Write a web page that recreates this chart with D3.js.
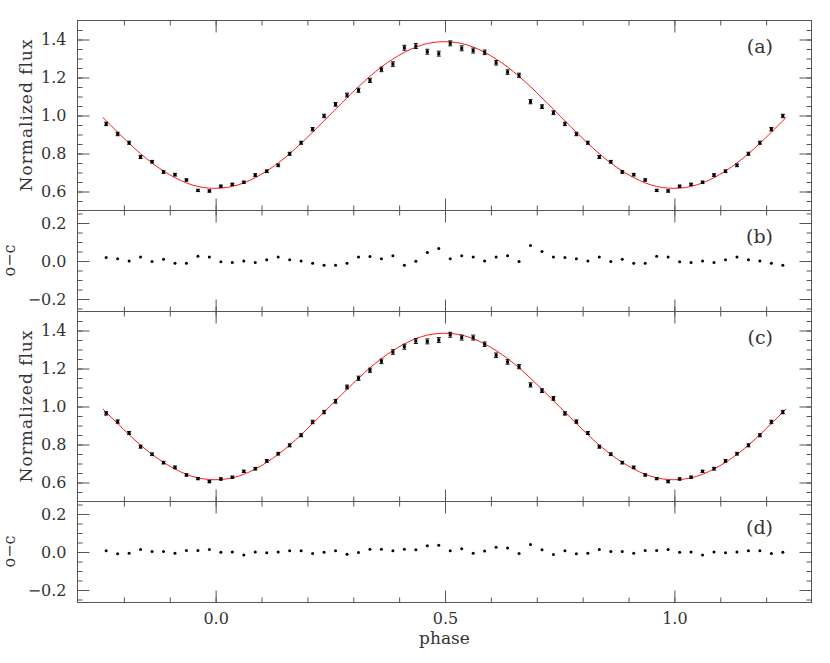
<!DOCTYPE html>
<html>
<head>
<meta charset="utf-8">
<script src="https://cdn.jsdelivr.net/npm/d3@7"></script>
<style>
  body { margin: 0; background: #fff; }
  svg { display: block; }
  text { font-family: "DejaVu Serif", serif; fill: #333; }
</style>
</head>
<body>
<svg id="chart" width="830" height="663"></svg>
<script>
// phase bin centres (one cycle, 40 bins) - plotted again at phase-1 and phase+1
const binPhase = [0.0125,0.0375,0.0625,0.0875,0.1125,0.1375,0.1625,0.1875,0.2125,0.2375,
  0.2625,0.2875,0.3125,0.3375,0.3625,0.3875,0.4125,0.4375,0.4625,0.4875,
  0.5125,0.5375,0.5625,0.5875,0.6125,0.6375,0.6625,0.6875,0.7125,0.7375,
  0.7625,0.7875,0.8125,0.8375,0.8625,0.8875,0.9125,0.9375,0.9625,0.9875];

// panel (a) normalized flux
const fluxA = [0.625,0.635,0.646,0.684,0.704,0.735,0.796,0.854,0.925,0.995,
  1.056,1.105,1.130,1.182,1.240,1.268,1.354,1.363,1.333,1.323,
  1.377,1.351,1.339,1.330,1.275,1.226,1.209,1.070,1.044,1.012,
  0.953,0.900,0.854,0.779,0.754,0.700,0.686,0.658,0.603,0.600];

// panel (b) o-c
const ocB = [-0.007,-0.011,-0.002,-0.011,0.004,0.018,0.004,-0.002,-0.014,-0.025,
  -0.025,-0.014,0.018,0.021,0.009,0.025,-0.025,-0.004,0.042,0.063,
  0.009,0.025,0.018,-0.002,0.018,0.025,-0.005,0.079,0.047,0.018,
  0.016,0.009,-0.002,0.019,-0.005,0.007,-0.014,-0.014,0.023,0.018];

// panel (c) normalized flux
const fluxC = [0.616,0.625,0.656,0.670,0.711,0.749,0.793,0.846,0.916,0.968,
  1.025,1.100,1.146,1.188,1.235,1.284,1.312,1.342,1.340,1.347,
  1.375,1.360,1.360,1.325,1.267,1.232,1.207,1.111,1.081,1.040,
  0.961,0.918,0.858,0.786,0.746,0.702,0.677,0.637,0.618,0.602];

// panel (d) o-c
const ocD = [-0.004,-0.002,-0.018,-0.002,-0.007,-0.002,0.004,0.004,-0.011,-0.004,
  0.004,-0.014,-0.005,0.012,0.012,0.004,0.012,0.009,0.030,0.033,
  0.004,0.014,-0.009,0.002,0.023,0.018,-0.011,0.037,0.009,-0.016,
  0.004,-0.012,-0.009,0.011,0.000,0.000,-0.009,0.005,0.005,0.011];

// flux errors per bin (same for a and c)
const fluxErr = [0.006,0.006,0.006,0.007,0.007,0.007,0.008,0.008,0.009,0.009,
  0.010,0.010,0.011,0.011,0.012,0.012,0.013,0.013,0.013,0.013,
  0.013,0.013,0.013,0.012,0.012,0.012,0.011,0.011,0.010,0.010,
  0.009,0.009,0.008,0.008,0.007,0.007,0.007,0.006,0.006,0.006];

// model light curves (red)
const modelPhase = [-0.25,-0.20,-0.15,-0.10,-0.05,0.00,0.05,0.10,0.15,0.20,0.25,0.30,0.35,0.40,0.45,0.50,
  0.55,0.60,0.65,0.70,0.75,0.80,0.85,0.90,0.95,1.00,1.05,1.10,1.15,1.20,1.25];
const modelA = [1.000,0.880,0.771,0.687,0.632,0.614,0.632,0.687,0.771,0.880,1.000,1.120,1.229,1.313,1.368,1.386,
  1.368,1.313,1.229,1.120,1.000,0.880,0.771,0.687,0.632,0.614,0.632,0.687,0.771,0.880,1.000];
const modelC = [0.998,0.878,0.769,0.685,0.630,0.612,0.630,0.685,0.769,0.878,0.998,1.117,1.226,1.310,1.365,1.383,
  1.365,1.310,1.226,1.117,0.998,0.878,0.769,0.685,0.630,0.612,0.630,0.685,0.769,0.878,0.998];

// tick labels
const fluxTicks = [0.6, 0.8, 1.0, 1.2, 1.4];
const ocTicks = [-0.2, 0.0, 0.2];
const phaseTicks = [0.0, 0.5, 1.0];

const svg = d3.select("#chart");

// plot frame
const left = 77.5, right = 811.5;
const x = d3.scaleLinear().domain([-0.3, 1.3]).range([left, right]);
const phaseMinor = d3.range(-0.2, 1.25, 0.1);

const panels = [
  { top: 20,  bottom: 210, kind: "flux", flux: fluxA, model: modelA, tag: "(a)" },
  { top: 210, bottom: 311, kind: "oc",   oc: ocB, tag: "(b)" },
  { top: 311, bottom: 501, kind: "flux", flux: fluxC, model: modelC, tag: "(c)" },
  { top: 501, bottom: 602, kind: "oc",   oc: ocD, tag: "(d)" }
];

// clip for the model curves
svg.append("clipPath").attr("id", "curveClip")
  .append("rect")
  .attr("x", x(-0.245)).attr("y", 0)
  .attr("width", x(1.245) - x(-0.245)).attr("height", 663);

// repeat each bin at phase-1, phase, phase+1 inside the plotted range
function wrapped(values) {
  const out = [];
  [-1, 0, 1].forEach(function(shift) {
    binPhase.forEach(function(p, i) {
      const ph = p + shift;
      if (ph > -0.25 && ph < 1.25) out.push({ phase: ph, value: values[i], err: fluxErr[i] });
    });
  });
  return out;
}

function styleAxis(g) {
  g.select(".domain").remove();
  g.selectAll(".tick line").attr("stroke", "#555");
  g.selectAll(".tick text").attr("font-size", 16).attr("fill", "#333");
}

panels.forEach(function(p, idx) {
  let y, majors, minors, fmt;
  if (p.kind === "flux") {
    y = d3.scaleLinear().domain([0.5, 1.5]).range([p.bottom, p.top]);
    majors = fluxTicks;
    minors = d3.range(0.55, 1.46, 0.05);
    fmt = d3.format(".1f");
  } else {
    const half = (p.bottom - p.top) / 190 / 2;
    y = d3.scaleLinear().domain([-half, half]).range([p.bottom, p.top]);
    majors = ocTicks;
    minors = d3.range(-0.25, 0.26, 0.05);
    fmt = function(d) { return d3.format(".1f")(d).replace("-", "\u2212"); };
  }

  const g = svg.append("g");

  // frame
  g.append("rect")
    .attr("x", left).attr("y", p.top + 0.5)
    .attr("width", right - left).attr("height", p.bottom - p.top)
    .attr("fill", "none").attr("stroke", "#555").attr("stroke-width", 1);

  // y axes (ticks inward)
  g.append("g").attr("transform", "translate(" + left + ",0.5)")
    .call(d3.axisLeft(y).tickValues(minors).tickSizeInner(-5).tickSizeOuter(0).tickFormat(""))
    .call(styleAxis);
  g.append("g").attr("transform", "translate(" + left + ",0.5)")
    .call(d3.axisLeft(y).tickValues(majors).tickSizeInner(-12).tickSizeOuter(0).tickPadding(11).tickFormat(fmt))
    .call(styleAxis);
  g.append("g").attr("transform", "translate(" + right + ",0.5)")
    .call(d3.axisRight(y).tickValues(minors).tickSizeInner(-5).tickSizeOuter(0).tickFormat(""))
    .call(styleAxis);
  g.append("g").attr("transform", "translate(" + right + ",0.5)")
    .call(d3.axisRight(y).tickValues(majors).tickSizeInner(-12).tickSizeOuter(0).tickFormat(""))
    .call(styleAxis);

  // x axes (ticks inward, top and bottom)
  const isLast = idx === panels.length - 1;
  g.append("g").attr("transform", "translate(0.5," + (p.top + 0.5) + ")")
    .call(d3.axisTop(x).tickValues(phaseMinor).tickSizeInner(-5).tickSizeOuter(0).tickFormat(""))
    .call(styleAxis);
  g.append("g").attr("transform", "translate(0.5," + (p.top + 0.5) + ")")
    .call(d3.axisTop(x).tickValues(phaseTicks).tickSizeInner(-12).tickSizeOuter(0).tickFormat(""))
    .call(styleAxis);
  g.append("g").attr("transform", "translate(0.5," + (p.bottom + 0.5) + ")")
    .call(d3.axisBottom(x).tickValues(phaseMinor).tickSizeInner(-5).tickSizeOuter(0).tickFormat(""))
    .call(styleAxis);
  g.append("g").attr("transform", "translate(0.5," + (p.bottom + 0.5) + ")")
    .call(d3.axisBottom(x).tickValues(phaseTicks).tickSizeInner(-12).tickSizeOuter(0)
      .tickPadding(10).tickFormat(isLast ? d3.format(".1f") : ""))
    .call(styleAxis);

  // panel tag
  g.append("text")
    .attr("x", 773).attr("y", p.top + 26)
    .attr("text-anchor", "end").attr("dominant-baseline", "central")
    .attr("font-size", 19)
    .text(p.tag);

  if (p.kind === "flux") {
    const pts = wrapped(p.flux);

    // model curve
    const line = d3.line()
      .x(function(d, i) { return x(modelPhase[i]); })
      .y(function(d) { return y(d); })
      .curve(d3.curveNatural);
    g.append("path")
      .datum(p.model)
      .attr("clip-path", "url(#curveClip)")
      .attr("fill", "none")
      .attr("stroke", "#ff1a1a")
      .attr("stroke-width", 1)
      .attr("d", line);

    // error bars
    const eb = g.append("g").attr("stroke", "#111").attr("stroke-width", 1);
    eb.selectAll("line.bar").data(pts).enter().append("line")
      .attr("x1", function(d) { return x(d.phase); })
      .attr("x2", function(d) { return x(d.phase); })
      .attr("y1", function(d) { return y(d.value - d.err); })
      .attr("y2", function(d) { return y(d.value + d.err); });
    eb.selectAll("line.capTop").data(pts).enter().append("line")
      .attr("x1", function(d) { return x(d.phase) - 2; })
      .attr("x2", function(d) { return x(d.phase) + 2; })
      .attr("y1", function(d) { return y(d.value + d.err); })
      .attr("y2", function(d) { return y(d.value + d.err); });
    eb.selectAll("line.capBot").data(pts).enter().append("line")
      .attr("x1", function(d) { return x(d.phase) - 2; })
      .attr("x2", function(d) { return x(d.phase) + 2; })
      .attr("y1", function(d) { return y(d.value - d.err); })
      .attr("y2", function(d) { return y(d.value - d.err); });

    // data points
    g.selectAll("rect.pt").data(pts).enter().append("rect")
      .attr("x", function(d) { return x(d.phase) - 1.5; })
      .attr("y", function(d) { return y(d.value) - 1.5; })
      .attr("width", 3).attr("height", 3)
      .attr("fill", "#000");

    // y label
    g.append("text")
      .attr("transform", "translate(32," + ((p.top + p.bottom) / 2) + ") rotate(-90)")
      .attr("text-anchor", "middle")
      .attr("font-size", 17)
      .attr("letter-spacing", 1)
      .text("Normalized flux");
  } else {
    const pts = wrapped(p.oc);
    g.selectAll("circle").data(pts).enter().append("circle")
      .attr("cx", function(d) { return x(d.phase); })
      .attr("cy", function(d) { return y(d.value); })
      .attr("r", 1.5)
      .attr("fill", "#000");

    g.append("text")
      .attr("transform", "translate(15," + ((p.top + p.bottom) / 2) + ") rotate(-90)")
      .attr("text-anchor", "middle")
      .attr("font-size", 16)
      .text("o\u2212c");
  }
});

// x label
svg.append("text")
  .attr("x", x(0.5)).attr("y", 644)
  .attr("text-anchor", "middle")
  .attr("font-size", 17)
  .text("phase");
</script>
</body>
</html>
